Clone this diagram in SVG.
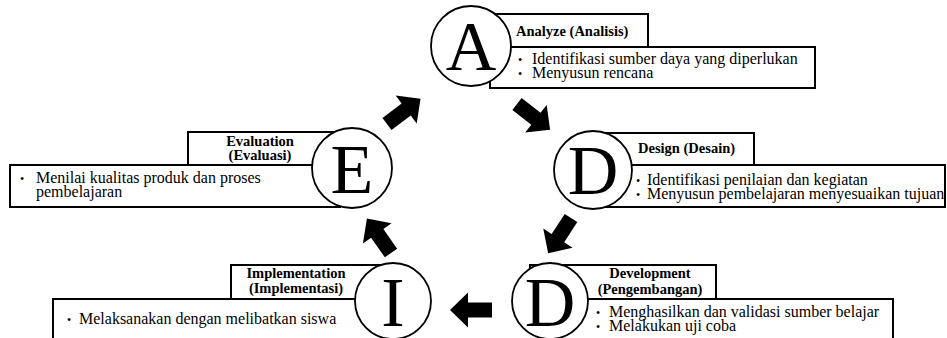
<svg xmlns="http://www.w3.org/2000/svg" xmlns:xlink="http://www.w3.org/1999/xlink" width="947" height="338" viewBox="0 0 947 338">
<style>
.box{fill:#fff;stroke:#000;stroke-width:2}
.ring{fill:#fff;stroke:#000;stroke-width:1.8}
.big{font-family:"Liberation Serif","Times New Roman",serif;font-size:70px;text-anchor:middle;fill:#000}
.lab{font-family:"Liberation Serif","Times New Roman",serif;font-size:14.5px;font-weight:bold;fill:#000}
.mid{text-anchor:middle}
.li{font-family:"Liberation Serif","Times New Roman",serif;font-size:16px;fill:#000}
.bul{font-size:12px}
.arr{fill:#000}
</style>
<defs>
<polygon id="blk" points="0,-7.5 24,-7.5 24,-17.5 42,0 24,17.5 24,7.5 0,7.5"/>
</defs>
<g id="connectors" class="arr">
<use xlink:href="#blk" href="#blk" transform="translate(387,124) rotate(-37)"/>
<use xlink:href="#blk" href="#blk" transform="translate(517,104) rotate(38)"/>
<use xlink:href="#blk" href="#blk" transform="translate(571,218) rotate(123)"/>
<use xlink:href="#blk" href="#blk" transform="translate(492,310) rotate(180)"/>
<use xlink:href="#blk" href="#blk" transform="translate(391,253) rotate(-125)"/>
</g>
<g id="node-analyze">
<rect class="box" x="480" y="14" width="168" height="33"/>
<rect class="box" x="490" y="47" width="325" height="41"/>
<circle class="ring" cx="471" cy="46" r="40"/>
<text class="big" x="471" y="70">A</text>
<text class="lab" x="516" y="36">Analyze (Analisis)</text>
<text class="li" y="64"><tspan class="bul" x="518">•</tspan><tspan x="532">Identifikasi sumber daya yang diperlukan</tspan></text>
<text class="li" y="78"><tspan class="bul" x="518">•</tspan><tspan x="532">Menyusun rencana</tspan></text>
</g>
<g id="node-evaluation">
<rect class="box" x="188" y="132" width="152" height="33"/>
<rect class="box" x="10" y="165" width="330" height="42"/>
<circle class="ring" cx="352" cy="168" r="40"/>
<text class="big" x="352" y="193">E</text>
<text class="lab mid" x="260" y="146">Evaluation</text>
<text class="lab mid" x="260" y="160">(Evaluasi)</text>
<text class="li" y="183"><tspan class="bul" x="20">•</tspan><tspan x="36">Menilai kualitas produk dan proses</tspan></text>
<text class="li" x="36" y="197">pembelajaran</text>
</g>
<g id="node-design">
<rect class="box" x="600" y="133" width="154" height="32"/>
<rect class="box" x="605" y="165" width="340" height="42"/>
<circle class="ring" cx="593" cy="170" r="39"/>
<text class="big" x="593" y="194">D</text>
<text class="lab" x="638" y="153">Design (Desain)</text>
<text class="li" y="185"><tspan class="bul" x="636">•</tspan><tspan x="647">Identifikasi penilaian dan kegiatan</tspan></text>
<text class="li" y="199"><tspan class="bul" x="636">•</tspan><tspan x="647">Menyusun pembelajaran menyesuaikan tujuan</tspan></text>
</g>
<g id="node-implementation">
<rect class="box" x="231" y="265" width="150" height="34"/>
<rect class="box" x="53" y="299" width="330" height="50"/>
<circle class="ring" cx="393" cy="301" r="38"/>
<text class="big" x="393" y="326">I</text>
<text class="lab mid" x="296" y="278">Implementation</text>
<text class="lab mid" x="296" y="293">(Implementasi)</text>
<text class="li" y="324"><tspan class="bul" x="67">•</tspan><tspan x="79">Melaksanakan dengan melibatkan siswa</tspan></text>
</g>
<g id="node-development">
<rect class="box" x="530" y="265" width="186" height="34"/>
<rect class="box" x="540" y="299" width="353" height="50"/>
<circle class="ring" cx="550" cy="301" r="38"/>
<text class="big" x="550" y="326">D</text>
<text class="lab mid" x="650" y="278">Development</text>
<text class="lab mid" x="650" y="294">(Pengembangan)</text>
<text class="li" y="317"><tspan class="bul" x="596">•</tspan><tspan x="609">Menghasilkan dan validasi sumber belajar</tspan></text>
<text class="li" y="331"><tspan class="bul" x="596">•</tspan><tspan x="609">Melakukan uji coba</tspan></text>
</g>
</svg>
